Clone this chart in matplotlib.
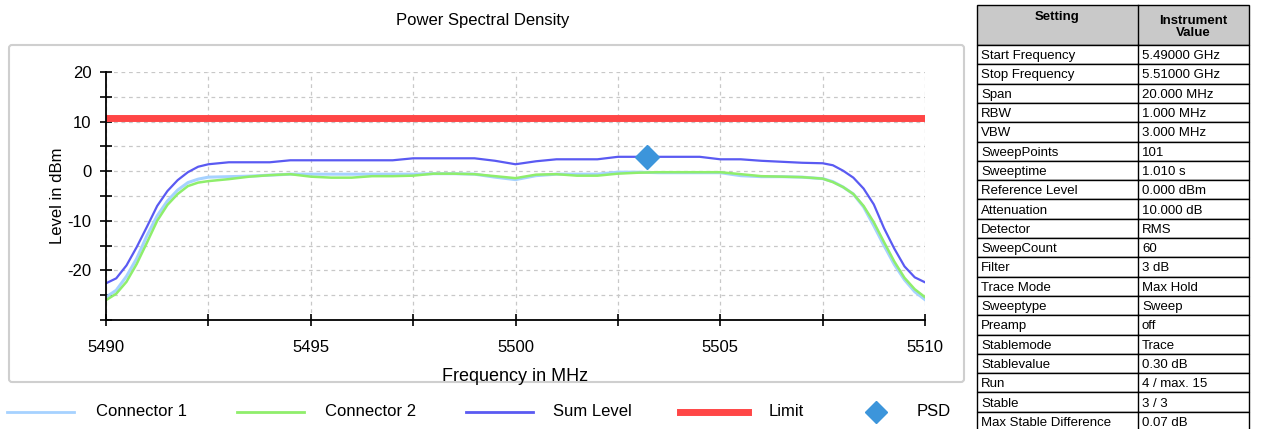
import matplotlib
matplotlib.use("Agg")
import matplotlib.pyplot as plt
from matplotlib.patches import Rectangle, FancyBboxPatch

plt.rcParams["font.family"] = ["Liberation Sans", "DejaVu Sans"]

# frequency points (MHz)
freq = [5490.0, 5490.25, 5490.5, 5490.75, 5491.0, 5491.25, 5491.5, 5491.75, 5492.0, 5492.25,
        5492.5, 5493.0, 5493.5, 5494.0, 5494.5, 5495.0, 5495.5, 5496.0, 5496.5, 5497.0,
        5497.5, 5498.0, 5498.5, 5499.0, 5499.5, 5500.0, 5500.5, 5501.0, 5501.5, 5502.0,
        5502.5, 5503.0, 5503.5, 5504.0, 5504.5, 5505.0, 5505.5, 5506.0, 5506.5, 5507.0,
        5507.5, 5507.75, 5508.0, 5508.25, 5508.5, 5508.75, 5509.0, 5509.25, 5509.5, 5509.75,
        5510.0]

sum_level = [-22.6, -21.6, -19.0, -15.3, -11.2, -7.0, -4.0, -1.8, -0.2, 0.9,
             1.4, 1.8, 1.8, 1.8, 2.2, 2.2, 2.2, 2.2, 2.2, 2.2,
             2.6, 2.6, 2.6, 2.6, 2.1, 1.4, 2.0, 2.4, 2.4, 2.4,
             2.9, 2.9, 2.9, 2.9, 2.9, 2.4, 2.4, 2.1, 1.9, 1.7,
             1.6, 1.2, 0.1, -1.3, -3.5, -6.7, -11.5, -15.6, -19.2, -21.4,
             -22.4]

connector1 = [-25.4, -24.0, -21.2, -17.6, -13.0, -9.0, -6.0, -3.8, -2.3, -1.6,
              -1.2, -1.1, -1.0, -0.8, -0.6, -0.6, -0.6, -0.6, -0.6, -0.6,
              -0.6, -0.5, -0.5, -0.6, -1.2, -1.7, -0.9, -0.6, -0.6, -0.6,
              -0.2, -0.2, -0.3, -0.3, -0.3, -0.3, -0.9, -1.1, -1.1, -1.2,
              -1.5, -2.1, -3.2, -4.6, -7.2, -11.0, -15.0, -18.8, -21.9, -24.3,
              -25.9]

connector2 = [-26.0, -24.7, -22.3, -18.7, -14.4, -10.0, -6.8, -4.6, -3.0, -2.3,
              -2.0, -1.6, -1.1, -0.8, -0.6, -1.1, -1.3, -1.3, -1.0, -1.0,
              -0.9, -0.5, -0.5, -0.6, -1.0, -1.4, -0.7, -0.6, -0.9, -0.9,
              -0.5, -0.3, -0.2, -0.2, -0.2, -0.2, -0.6, -1.0, -1.1, -1.2,
              -1.5, -2.2, -3.2, -4.6, -7.0, -10.3, -14.3, -18.2, -21.5, -23.8,
              -25.4]

limit_level = 10.8
psd_freq = 5503.2
psd_level = 2.8

settings = ["Start Frequency", "Stop Frequency", "Span", "RBW", "VBW", "SweepPoints",
            "Sweeptime", "Reference Level", "Attenuation", "Detector", "SweepCount",
            "Filter", "Trace Mode", "Sweeptype", "Preamp", "Stablemode", "Stablevalue",
            "Run", "Stable", "Max Stable Difference"]
values = ["5.49000 GHz", "5.51000 GHz", "20.000 MHz", "1.000 MHz", "3.000 MHz", "101",
          "1.010 s", "0.000 dBm", "10.000 dB", "RMS", "60", "3 dB", "Max Hold", "Sweep",
          "off", "Trace", "0.30 dB", "4 / max. 15", "3 / 3", "0.07 dB"]

W, H = 1264, 429
fig = plt.figure(figsize=(W / 100, H / 100), dpi=100)

# background panel, legend and table drawn in pixel coordinates
bg = fig.add_axes([0, 0, 1, 1])
bg.set_xlim(0, W)
bg.set_ylim(H, 0)
bg.axis("off")
bg.add_patch(FancyBboxPatch((9, 45), 955, 337, boxstyle="round,pad=0,rounding_size=3",
                            fc="white", ec="#cfcfcf", lw=1.5))
bg.text(483, 20, "Power Spectral Density", ha="center", va="center", fontsize=12)

# settings table
x0, x1, x2 = 977, 1138, 1249
top, head_h, row_h = 5, 40, 19.3
bg.add_patch(Rectangle((x0, top), x2 - x0, head_h, fc="#c9c9c9", ec="black", lw=1))
bg.plot([x1, x1], [top, top + head_h], color="black", lw=1)
bg.text((x0 + x1) / 2, top + 12, "Setting", ha="center", va="center", fontsize=9.5, fontweight="bold")
bg.text((x1 + x2) / 2, top + 22, "Instrument\nValue", ha="center", va="center",
        fontsize=9.5, fontweight="bold", linespacing=1.1)
for i, (s, v) in enumerate(zip(settings, values)):
    y = top + head_h + i * row_h
    bg.add_patch(Rectangle((x0, y), x2 - x0, row_h, fc="white", ec="black", lw=1))
    bg.plot([x1, x1], [y, y + row_h], color="black", lw=1)
    bg.text(x0 + 4, y + row_h / 2 + 1.5, s, ha="left", va="center", fontsize=9.5)
    bg.text(x1 + 4, y + row_h / 2 + 1.5, v, ha="left", va="center", fontsize=9.5)

c1_col, c2_col, sum_col, lim_col, psd_col = "#a6d2ff", "#8fee6b", "#5a5af2", "#ff4646", "#3c95db"

# legend row under the panel
leg_y = 412
bg.plot([7, 74], [leg_y, leg_y], color=c1_col, lw=2)
bg.text(96, leg_y, "Connector 1", va="center", fontsize=12)
bg.plot([237, 304], [leg_y, leg_y], color=c2_col, lw=2)
bg.text(325, leg_y, "Connector 2", va="center", fontsize=12)
bg.plot([466, 533], [leg_y, leg_y], color=sum_col, lw=2)
bg.text(553, leg_y, "Sum Level", va="center", fontsize=12)
bg.plot([680, 748], [leg_y, leg_y], color=lim_col, lw=5)
bg.text(769, leg_y, "Limit", va="center", fontsize=12)
bg.plot([876], [leg_y], marker="D", ms=11, color=psd_col)
bg.text(917, leg_y, "PSD", va="center", fontsize=12)

# chart
ax = fig.add_axes([106 / W, 1 - 320 / H, 819 / W, 248 / H])
ax.set_xlim(5490, 5510)
ax.set_ylim(-30, 20)
ax.set_xticks([5490 + 2.5 * i for i in range(9)])
ax.set_xticklabels([str(5490 + 5 * (i // 2)) if i % 2 == 0 else "" for i in range(9)])
ax.set_yticks([-30 + 5 * i for i in range(11)])
ax.set_yticklabels([str(-30 + 5 * i) if i % 2 == 0 and i > 0 else "" for i in range(11)])
ax.tick_params(direction="inout", length=9, width=1.2, labelsize=12)
ax.tick_params(axis="x", pad=10)
ax.tick_params(axis="y", pad=6)
ax.grid(True, ls=(0, (3, 3)), color="#c8c8c8", lw=0.9)
for sp in ["top", "right"]:
    ax.spines[sp].set_visible(False)
for sp in ["left", "bottom"]:
    ax.spines[sp].set_linewidth(1.3)
ax.set_xlabel("Frequency in MHz", fontsize=13, labelpad=9)
ax.set_ylabel("Level in dBm", fontsize=12, labelpad=2)

ax.plot(freq, connector1, color=c1_col, lw=2.2)
ax.plot(freq, connector2, color=c2_col, lw=1.8)
ax.plot(freq, sum_level, color=sum_col, lw=1.6)
ax.axhline(limit_level, color=lim_col, lw=5)
ax.plot([psd_freq], [psd_level], marker="D", ms=12, color=psd_col, ls="none")

fig.savefig("out.png", dpi=100)
